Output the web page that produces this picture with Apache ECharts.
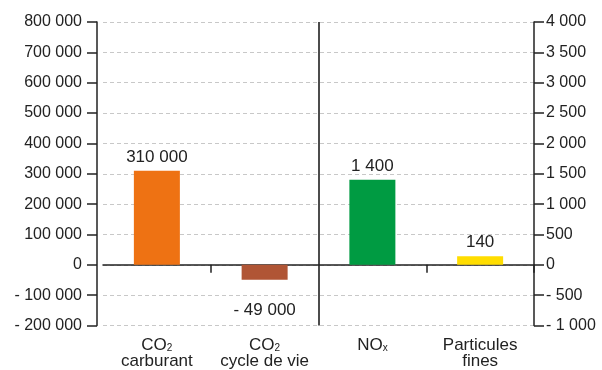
<!DOCTYPE html>
<html>
<head>
<meta charset="utf-8">
<script src="https://cdn.jsdelivr.net/npm/echarts@6/dist/echarts.min.js"></script>
<style>
  html, body { margin: 0; padding: 0; background: #fff; }
  #chart { width: 602px; height: 370px; }
</style>
</head>
<body>
<div id="chart"></div>
<script>
// catégories (axe x)
const categories = ['{t|CO}{sub|2}\ncarburant', '{t|CO}{sub|2}\ncycle de vie', '{t|NO}{sub|x}', 'Particules\nfines']
// axe gauche : CO2 (en tonnes)
const co2Values = [310000, -49000, '-', '-']
// axe droit : polluants
const pollutantValues = ['-', '-', 1400, 140]
const barColors = ['#EE7213', '#B05535', '#009B42', '#FFDD00']

const fmt = (v) => {
  const s = Math.abs(v).toString().replace(/\B(?=(\d{3})+(?!\d))/g, ' ')
  return v < 0 ? '- ' + s : s
}

const chart = echarts.init(document.getElementById('chart'))

const font = 'Liberation Sans, Arial, sans-serif'

const option = {
  animation: false,
  textStyle: { fontFamily: font },
  grid: { left: 103, right: 68, top: 22, bottom: 43 },
  xAxis: [
    {
      type: 'category',
      data: categories,
      axisLine: { onZero: true, lineStyle: { color: '#222', width: 1.5 } },
      axisTick: {
        show: true,
        length: 8,
        interval: (i) => i === 1 || i === 3,
        lineStyle: { color: '#222', width: 1.5 }
      },
      axisLabel: { show: false },
      // séparateur vertical entre les deux groupes (seule la 2e ligne est visible)
      splitLine: {
        show: true,
        interval: (i) => i === 0 || i === 2,
        lineStyle: { color: ['rgba(0,0,0,0)', '#111', 'rgba(0,0,0,0)'], width: 1.5, type: 'solid' }
      }
    },
    {
      type: 'category',
      data: categories,
      position: 'bottom',
      axisLine: { show: false, onZero: false },
      axisTick: { show: false },
      axisLabel: {
        interval: 0,
        margin: 12,
        color: '#222',
        fontSize: 17,
        lineHeight: 16,
        fontFamily: font,
        rich: {
          t: { fontSize: 17, color: '#222', fontFamily: font, lineHeight: 16 },
          sub: { fontSize: 10, color: '#222', fontFamily: font, verticalAlign: 'bottom', lineHeight: 12, padding: [6, 0, 0, 0] }
        }
      }
    }
  ],
  yAxis: [
    {
      type: 'value',
      min: -200000,
      max: 800000,
      interval: 100000,
      offset: 6,
      axisLine: { show: true, lineStyle: { color: '#222', width: 1.5 } },
      axisTick: { show: true, length: 10, lineStyle: { color: '#222', width: 1.5 } },
      axisLabel: { color: '#222', fontSize: 16, margin: 15, formatter: fmt },
      splitLine: { lineStyle: { color: '#c8c8c8', type: [4, 3], width: 1 } }
    },
    {
      type: 'value',
      min: -1000,
      max: 4000,
      interval: 500,
      position: 'right',
      axisLine: { show: true, lineStyle: { color: '#222', width: 1.5 } },
      axisTick: { show: true, length: 10, lineStyle: { color: '#222', width: 1.5 } },
      axisLabel: { color: '#222', fontSize: 16, margin: 12, formatter: fmt },
      splitLine: { show: false }
    }
  ],
  series: [
    {
      name: 'CO2',
      type: 'bar',
      xAxisIndex: 0,
      yAxisIndex: 0,
      barWidth: 46,
      barGap: '-100%',
      data: co2Values.map((v, i) => ({
        value: v,
        itemStyle: { color: barColors[i] },
        label: { position: v < 0 ? 'bottom' : 'top', distance: v < 0 ? 22 : 5 }
      })),
      label: { show: true, color: '#222', fontSize: 17, formatter: (p) => fmt(p.value) }
    },
    {
      name: 'Polluants',
      type: 'bar',
      xAxisIndex: 0,
      yAxisIndex: 1,
      barWidth: 46,
      barGap: '-100%',
      data: pollutantValues.map((v, i) => ({
        value: v,
        itemStyle: { color: barColors[i] }
      })),
      label: { show: true, position: 'top', distance: 5, color: '#222', fontSize: 17, formatter: (p) => fmt(p.value) }
    }
  ]
}

chart.setOption(option)
</script>
</body>
</html>
